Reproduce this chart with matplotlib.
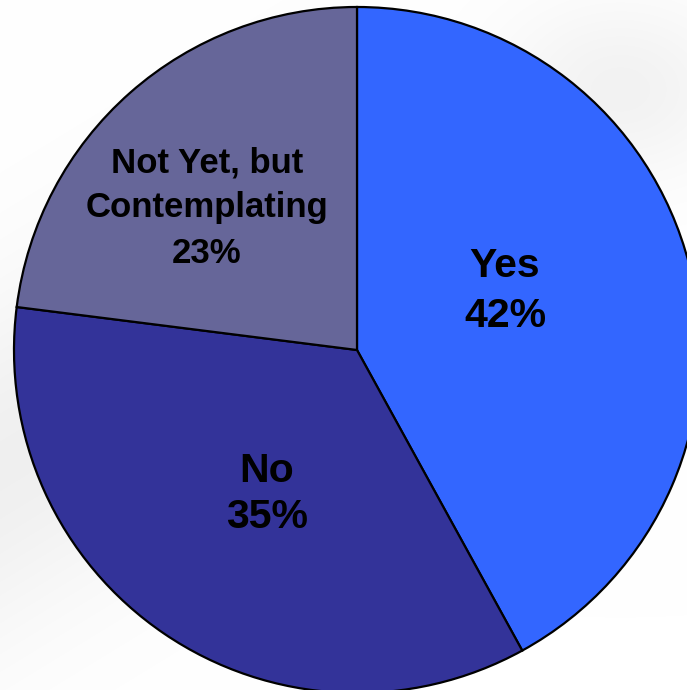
import matplotlib
matplotlib.use("Agg")
import matplotlib.pyplot as plt
import numpy as np

labels = ["Yes", "No", "Not Yet, but\nContemplating"]
values = [42, 35, 23]
colors = ["#3366FF", "#333399", "#666699"]

W, H = 687, 690
fig = plt.figure(figsize=(W / 100, H / 100), dpi=100)
ax = fig.add_axes([0, 0, 1, 1])
ax.set_xlim(0, W)
ax.set_ylim(0, H)
ax.axis("off")

# faint gray sheen in the background
yy, xx = np.mgrid[0:H, 0:W]
bg = 1.0 - 0.06 * np.exp(-((xx * 0.55 + (H - yy) * 0.9 - 420) / 160.0) ** 2) * (xx < 360)
bg = bg - 0.05 * np.exp(-((yy - 600) / 90.0) ** 2) * np.exp(-((xx - 620) / 120.0) ** 2)
ax.imshow(np.dstack([bg, bg, bg]), extent=(0, W, 0, H), origin="lower", zorder=0,
          aspect="auto")

cx, cy, r = 357, H - 350, 343
wedges, _ = ax.pie(values, colors=colors, startangle=90, counterclock=False,
                   center=(cx, cy), radius=r, frame=True,
                   wedgeprops=dict(edgecolor="black", linewidth=1.6))
ax.set_xlim(0, W)
ax.set_ylim(0, H)
ax.set_aspect("auto")
ax.axis("off")

label_pos = [(505, 291), (267, 494), (207, 208)]
label_size = [29.5, 29.5, 25]
label_spacing = [1.4, 1.28, 1.48]
for lab, v, (x, y), fs, ls in zip(labels, values, label_pos, label_size, label_spacing):
    ax.text(x, H - y, f"{lab}\n{v}%", ha="center", va="center",
            multialignment="center", fontsize=fs, fontweight="bold",
            family="Liberation Sans", linespacing=ls, color="black", zorder=5)

fig.savefig("out.png", dpi=100)
